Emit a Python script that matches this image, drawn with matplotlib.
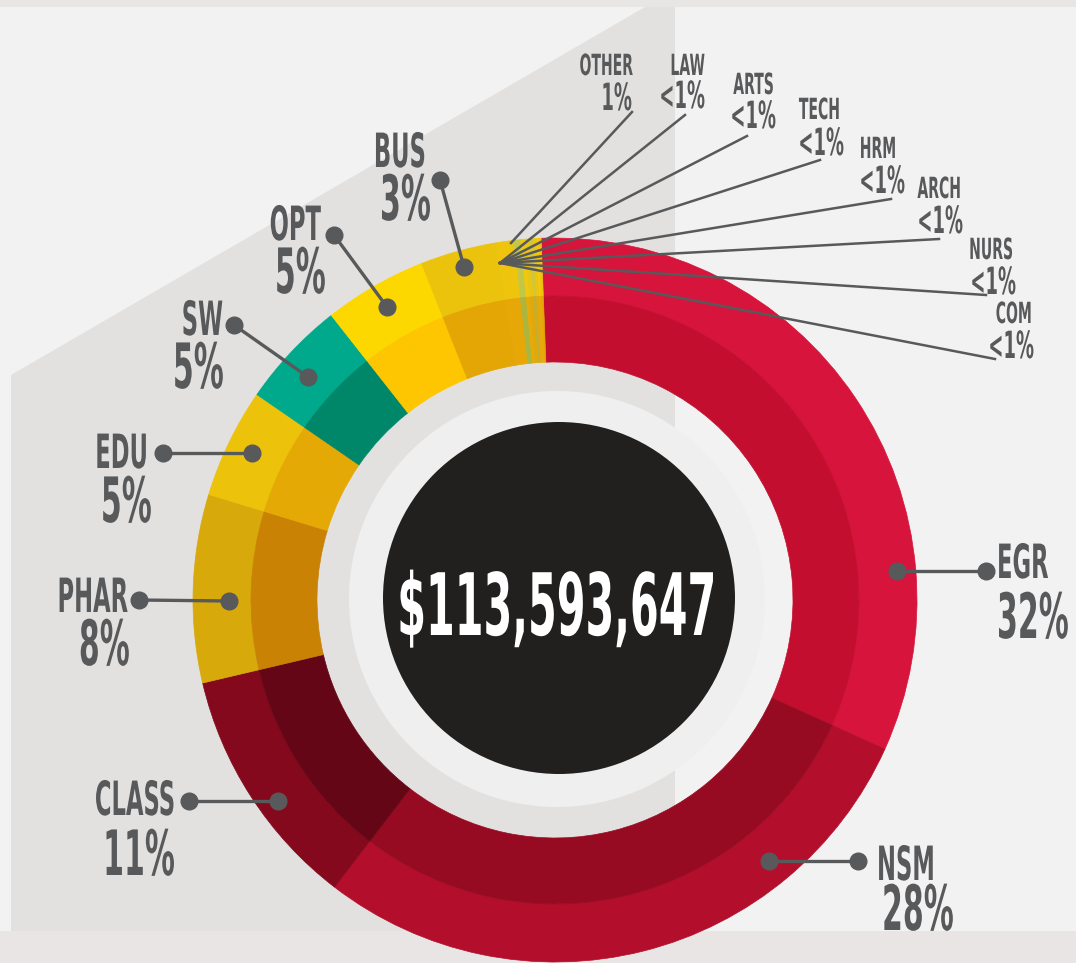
import matplotlib
matplotlib.use('Agg')
import matplotlib.pyplot as plt
from matplotlib.patches import Polygon, Circle, Rectangle
from matplotlib.patheffects import AbstractPathEffect
from matplotlib.transforms import Affine2D
from matplotlib import font_manager

# --- data -------------------------------------------------------------
colleges = ['EGR', 'NSM', 'CLASS', 'PHAR', 'EDU', 'SW', 'OPT', 'BUS',
            'OTHER', 'LAW', 'ARTS', 'TECH', 'HRM', 'ARCH', 'NURS', 'COM']
shares = [32.4, 28.7, 10.9, 8.4, 4.9, 4.8, 4.6, 3.4,
          0.8, 0.3, 0.2, 0.2, 0.15, 0.15, 0.1, 0.1]
pct_labels = ['32%', '28%', '11%', '8%', '5%', '5%', '5%', '3%',
              '1%', '<1%', '<1%', '<1%', '<1%', '<1%', '<1%', '<1%']
total_label = '$113,593,647'

outer_colors = ['#d7143b', '#b30e2c', '#84091d', '#d8a90b', '#edc20b', '#00a98b', '#fdd800', '#ecc30c',
                '#efc40d', '#c2c846', '#f1c70f', '#e9c514', '#d0c63a', '#efc40d', '#f3c80e', '#eec30c']
inner_colors = ['#c40e2f', '#970b22', '#640616', '#c98204', '#e4a905', '#008769', '#fec600', '#e4a605',
                '#e6a707', '#aab63e', '#e8aa08', '#e2a80a', '#c4ae30', '#e6a707', '#e8ab09', '#e4a605']

GREY = '#58595b'
W, H = 1076, 963

# pick a narrow font if there is one; the lettering is then stretched upward
names = {f.name for f in font_manager.fontManager.ttflist}
if 'Liberation Sans Narrow' in names:
    FONT, SQ = 'Liberation Sans Narrow', 0.72
else:
    FONT, SQ = 'DejaVu Sans', 0.48


class Tall(AbstractPathEffect):
    """Stretch glyphs vertically about the baseline (tall gothic lettering)."""

    def __init__(self, sy):
        super().__init__()
        self.sy = sy

    def draw_path(self, renderer, gc, tpath, affine, rgbFace=None):
        y0 = affine.get_matrix()[1, 2]
        t = affine + Affine2D().translate(0, -y0).scale(1, self.sy).translate(0, y0)
        renderer.draw_path(gc, tpath, t, rgbFace)


fig = plt.figure(figsize=(W / 100, H / 100), dpi=100)
fig.patch.set_facecolor('#f3f2f2')
ax = fig.add_axes([0, 0, 1, 1])


def label(x, y, s, size, ha, color=GREY):
    # size is the visual (cap height) size; width is set by size * SQ
    ax.text(x, H - y, s, fontsize=size * SQ, ha=ha, va='baseline', color=color,
            family=FONT, weight='bold', path_effects=[Tall(1 / SQ)], zorder=6)


# background shapes
ax.add_patch(Rectangle((0, H - 7), W, 7, color='#e8e6e5', lw=0, zorder=0))
ax.add_patch(Rectangle((0, 0), W, 32, color='#e8e5e4', lw=0, zorder=0))
ax.add_patch(Polygon([(11, H - 931), (11, H - 375), (645, H - 7), (675, H - 7), (675, H - 931)],
                     closed=True, color='#e2e1e0', lw=0, zorder=0))

# two-tone donut
cx, cy = 555, H - 600
outer, _ = ax.pie(shares, radius=362, center=(cx, cy), startangle=92.2, counterclock=False,
                  colors=outer_colors, wedgeprops=dict(width=58, linewidth=0.5))
inner, _ = ax.pie(shares, radius=304, center=(cx, cy), startangle=92.2, counterclock=False,
                  colors=inner_colors, wedgeprops=dict(width=66, linewidth=0.5))
for w in outer + inner:
    w.set_edgecolor(w.get_facecolor())

ax.add_patch(Circle((cx + 2, cy + 1), 208, color='#efefef', lw=0, zorder=3))
ax.add_patch(Circle((cx + 4, cy + 2), 176, color='#221f1f', lw=0, zorder=4))
label(cx + 2, 635, total_label, 62, 'center', color='white')

# leader lines for the big colleges
ring_dot = [(897, 571), (769, 861), (278, 801), (229, 601), (252, 453), (308, 377), (387, 307), (464, 267)]
label_dot = [(986, 571), (858, 861), (189, 801), (139, 600), (163, 453), (234, 325), (334, 235), (440, 180)]
name_pos = [(997, 578, 'left'), (877, 880, 'left'), (175, 815, 'right'), (128, 612, 'right'),
            (148, 468, 'right'), (223, 335, 'right'), (321, 240, 'right'), (426, 167, 'right')]
pct_pos = [(997, 638, 'left'), (882, 930, 'left'), (175, 875, 'right'), (130, 665, 'right'),
           (152, 522, 'right'), (224, 388, 'right'), (326, 293, 'right'), (431, 220, 'right')]

for i in range(8):
    (x1, y1), (x2, y2) = ring_dot[i], label_dot[i]
    ax.plot([x1, x2], [H - y1, H - y2], '-o', color=GREY, lw=2.4, ms=12, zorder=5)
    label(name_pos[i][0], name_pos[i][1], colleges[i], 34, name_pos[i][2])
    label(pct_pos[i][0], pct_pos[i][1], pct_labels[i], 45, pct_pos[i][2])

# fan of thin leaders for the tiny slices
fan_start = [(511, 243)] + [(500, 263)] * 7
fan_end = [(632, 112), (685, 115), (747, 136), (820, 160), (891, 199), (939, 239), (986, 295), (995, 359)]
small_name = [(633, 75), (705, 75), (774, 94), (840, 119), (896, 158), (961, 198), (1013, 259), (1032, 323)]
small_pct = [(632, 110), (705, 108), (776, 128), (844, 155), (905, 193), (963, 233), (1016, 294), (1034, 358)]

for j in range(8):
    k = 8 + j
    (x1, y1), (x2, y2) = fan_start[j], fan_end[j]
    ax.plot([x1, x2], [H - y1, H - y2], color=GREY, lw=1.8, zorder=5)
    label(small_name[j][0], small_name[j][1], colleges[k], 21, 'right')
    label(small_pct[j][0], small_pct[j][1], pct_labels[k], 27, 'right')

ax.set_xlim(0, W)
ax.set_ylim(0, H)
ax.set_aspect('equal')
ax.axis('off')

fig.savefig('out.png', dpi=100, facecolor=fig.get_facecolor())
